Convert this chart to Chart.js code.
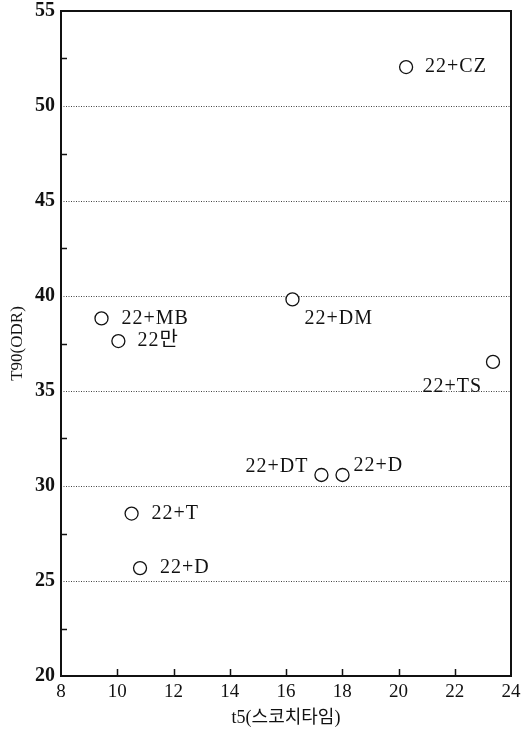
<!DOCTYPE html>
<html>
<head>
<meta charset="utf-8">
<script src="https://cdn.jsdelivr.net/npm/chart.js@4/dist/chart.umd.min.js"></script>
<style>
	html, body { margin: 0; padding: 0; background: #fff; }
	#chart { display: block; }
</style>
</head>
<body>
<canvas id="chart" width="521" height="731"></canvas>
<script>
// samples
const names = ["22+CZ", "22+DM", "22+MB", "22만", "22+TS", "22+DT", "22+D", "22+T", "22+D"]
const t5 = [20.27, 16.23, 9.44, 10.04, 23.36, 17.26, 18.01, 10.51, 10.81]
const t90 = [52.05, 39.82, 38.82, 37.63, 36.53, 30.58, 30.58, 28.55, 25.68]

const x_ticks = [8, 10, 12, 14, 16, 18, 20, 22, 24]
const y_ticks = [20, 25, 30, 35, 40, 45, 50, 55]
const y_minor = [22.5, 27.5, 32.5, 37.5, 42.5, 47.5, 52.5]

// where each name sits next to its circle: [dx, dy, align]
const label_place = [
	[19, 0, "left"], [12, 19, "left"], [20, 0, "left"], [19, 0, "left"],
	[-11, 25, "right"], [-13, -8, "right"], [11, -9, "left"], [20, 0, "left"], [20, 0, "left"]
]

const serif = "'Liberation Serif', 'DejaVu Serif', 'Noto Sans CJK KR', serif"

const point_labels = {
	id: "point_labels",
	afterDatasetsDraw(chart) {
		const ctx = chart.ctx
		const meta = chart.getDatasetMeta(0)
		ctx.save()
		ctx.fillStyle = "#111"
		ctx.font = "20px " + serif
		ctx.letterSpacing = "1px"
		ctx.textBaseline = "middle"
		meta.data.forEach((pt, i) => {
			const p = label_place[i]
			ctx.textAlign = p[2]
			ctx.fillText(names[i], pt.x + p[0], pt.y + p[1])
		})
		ctx.restore()
	}
}

const frame = {
	id: "frame",
	afterDraw(chart) {
		const ctx = chart.ctx
		const a = chart.chartArea
		const xs = chart.scales.x
		const ys = chart.scales.y
		ctx.save()
		ctx.strokeStyle = "#111"
		ctx.lineWidth = 2
		ctx.strokeRect(a.left, a.top, a.right - a.left, a.bottom - a.top)
		ctx.lineWidth = 1.5
		ctx.beginPath()
		x_ticks.slice(1, -1).forEach(v => {
			const px = Math.round(xs.getPixelForValue(v)) + 0.5
			ctx.moveTo(px, a.bottom)
			ctx.lineTo(px, a.bottom - 7)
		})
		y_minor.forEach(v => {
			const py = Math.round(ys.getPixelForValue(v)) + 0.5
			ctx.moveTo(a.left, py)
			ctx.lineTo(a.left + 6, py)
		})
		ctx.stroke()
		ctx.restore()
	}
}

new Chart(document.getElementById("chart"), {
	type: "scatter",
	data: {
		datasets: [{
			data: t5.map((x, i) => ({ x: x, y: t90[i] })),
			pointStyle: "circle",
			pointRadius: 6.5,
			pointHoverRadius: 6.5,
			pointBackgroundColor: "#fff",
			pointBorderColor: "#111",
			pointBorderWidth: 1.3
		}]
	},
	options: {
		responsive: false,
		animation: false,
		events: [],
		layout: { padding: { top: 11, right: 10, left: 0, bottom: 0 } },
		plugins: { legend: { display: false }, tooltip: { enabled: false } },
		scales: {
			x: {
				type: "linear",
				min: 8,
				max: 24,
				afterBuildTicks: s => { s.ticks = x_ticks.map(v => ({ value: v })) },
				afterFit: s => { s.height = 55; s.paddingLeft = 0; s.paddingRight = 0 },
				grid: { display: false, drawTicks: false },
				border: { display: false },
				ticks: { color: "#111", padding: 5, font: { family: serif, size: 19 } },
				title: {
					display: true,
					text: "t5(스코치타임)",
					color: "#111",
					padding: { top: 0, bottom: 2 },
					font: { family: serif, size: 18 }
				}
			},
			y: {
				type: "linear",
				min: 20,
				max: 55,
				afterBuildTicks: s => { s.ticks = y_ticks.map(v => ({ value: v })) },
				afterFit: s => { s.width = 61; s.paddingTop = 0; s.paddingBottom = 0 },
				grid: {
					drawTicks: false,
					color: c => (c.tick.value === 20 || c.tick.value === 55) ? "rgba(0,0,0,0)" : "#444",
					lineWidth: 1
				},
				border: { display: false, dash: [1, 1.5] },
				ticks: { color: "#111", padding: 6, font: { family: serif, size: 20, weight: "bold" } },
				title: {
					display: true,
					text: "T90(ODR)",
					color: "#111",
					padding: { top: 7, bottom: 0 },
					font: { family: serif, size: 17 }
				}
			}
		}
	},
	plugins: [point_labels, frame]
})
</script>
</body>
</html>
